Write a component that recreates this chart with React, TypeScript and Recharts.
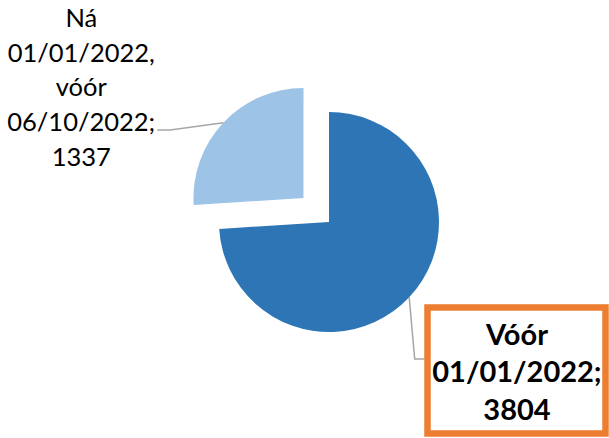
import React from 'react';
import { PieChart, Pie, Cell } from 'recharts';

const categories = ['Vóór 01/01/2022', 'Ná 01/01/2022, vóór 06/10/2022'];
const values = [3804, 1337];
const labelLines = [
  ['Vóór', '01/01/2022;'],
  ['Ná', '01/01/2022,', 'vóór', '06/10/2022;'],
];
const COLORS = ['#2E75B6', '#9DC3E6'];

const data = categories.map((name, i) => ({ name, value: values[i] }));

const CX = 329;
const CY = 222;
const R = 110;
const EXPLODE = 35;
const RAD = Math.PI / 180;

// mid angle of the exploded (second) slice, clockwise from 12 o'clock
const total = values.reduce((a, b) => a + b, 0);
const midDeg = 90 - (360 * (values[0] + values[1] / 2)) / total;
const exX = CX + EXPLODE * Math.cos(midDeg * RAD);
const exY = CY - EXPLODE * Math.sin(midDeg * RAD);

const FONT = 'Lato, "Noto Sans", sans-serif';
const LINE_GRAY = '#A6A6A6';

const anchorOf = (p: any) => ({
  x: p.cx + p.outerRadius * Math.cos(-p.midAngle * RAD),
  y: p.cy + p.outerRadius * Math.sin(-p.midAngle * RAD),
});

const renderMainLabel = (p: any) => {
  if (p.index !== 0) return null;
  const a = anchorOf(p);
  const lines = [...labelLines[0], String(p.value)];
  const bx = a.x + 18.3;
  const by = a.y + 10.2;
  const tx = bx + 89.5;
  return (
    <g>
      <polyline
        points={`${a.x},${a.y} ${a.x + 5.5},${a.y + 61.7} ${bx - 3},${a.y + 61.7}`}
        fill="none"
        stroke={LINE_GRAY}
        strokeWidth={1.5}
      />
      <rect x={bx} y={by} width={178} height={126} fill="#fff" stroke="#ED7D31" strokeWidth={6.5} />
      {lines.map((t, i) => (
        <text
          key={i}
          x={tx}
          y={by + 37.5 + i * 37.5}
          textAnchor="middle"
          fontFamily={FONT}
          fontWeight="bold"
          fontSize={29}
          fill="#000"
        >
          {t}
        </text>
      ))}
    </g>
  );
};

const renderSecondLabel = (p: any) => {
  if (p.index !== 1) return null;
  const a = anchorOf(p);
  const lines = [...labelLines[1], String(p.value)];
  const tx = a.x - 142;
  return (
    <g>
      <polyline
        points={`${a.x},${a.y} ${a.x - 53},${a.y + 7.3} ${a.x - 66},${a.y + 7.3}`}
        fill="none"
        stroke={LINE_GRAY}
        strokeWidth={1.5}
      />
      {lines.map((t, i) => (
        <text
          key={i}
          x={tx}
          y={a.y - 96 + i * 34.8}
          textAnchor="middle"
          fontFamily={FONT}
          fontSize={25.5}
          fill="#000"
        >
          {t}
        </text>
      ))}
    </g>
  );
};

export default function App() {
  return (
    <div style={{ position: 'fixed', top: 0, left: 0, background: '#fff' }}>
      <PieChart width={609} height={438} margin={{ top: 0, right: 0, bottom: 0, left: 0 }}>
        <Pie
          data={data}
          dataKey="value"
          nameKey="name"
          cx={CX}
          cy={CY}
          outerRadius={R}
          startAngle={90}
          endAngle={-270}
          label={renderMainLabel}
          labelLine={false}
          isAnimationActive={false}
        >
          {data.map((_, i) => (
            <Cell key={`m-${i}`} fill={i === 0 ? COLORS[0] : 'none'} stroke="none" />
          ))}
        </Pie>
        <Pie
          data={data}
          dataKey="value"
          nameKey="name"
          cx={exX}
          cy={exY}
          outerRadius={R}
          startAngle={90}
          endAngle={-270}
          label={renderSecondLabel}
          labelLine={false}
          isAnimationActive={false}
        >
          {data.map((_, i) => (
            <Cell key={`e-${i}`} fill={i === 1 ? COLORS[1] : 'none'} stroke="none" />
          ))}
        </Pie>
      </PieChart>
    </div>
  );
}
